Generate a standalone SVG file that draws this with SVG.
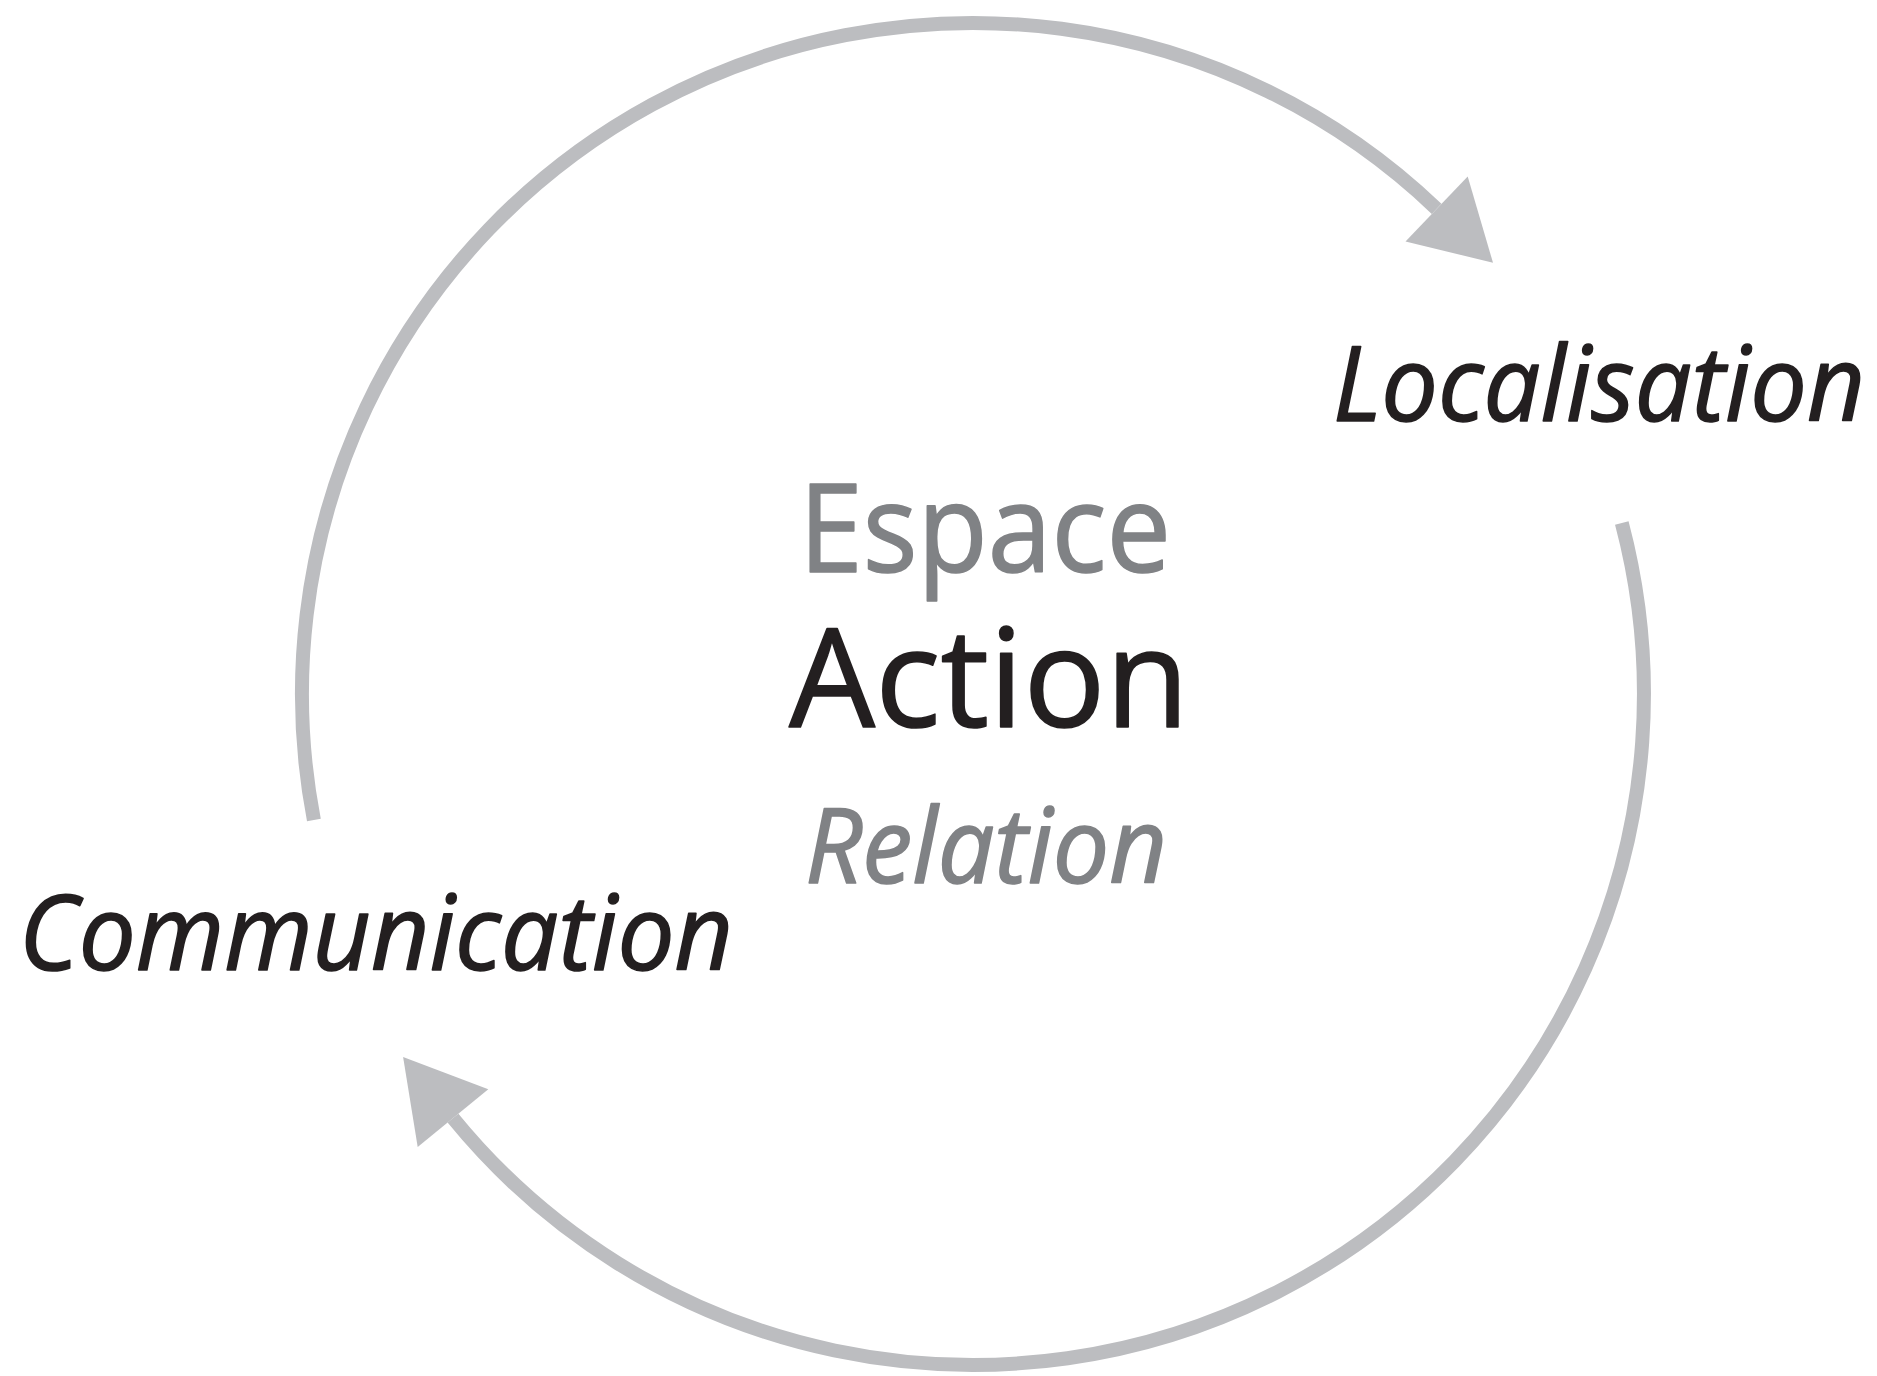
<svg xmlns="http://www.w3.org/2000/svg" width="1877" height="1376" viewBox="0 0 1877 1376">
<style>
.arc{fill:none;stroke:#bcbdc0;stroke-width:14}
.head{fill:#bcbdc0}
.t{font-family:"Open Sans","Noto Sans",sans-serif;stroke-width:1.6;stroke-linejoin:round}
.dark{fill:#231f20;stroke:#231f20}
.gray{fill:#808285;stroke:#808285}
.it{font-style:italic}
</style>
<rect width="1877" height="1376" fill="#ffffff"/>
<g id="connectors">
<path class="arc" d="M 313.9 820 A 671 671 0 0 1 1436.6 208.9"/>
<polygon class="head" points="1493,262.8 1467.7,176.4 1405.5,241.4"/>
<path class="arc" d="M 1621.8 523 A 671 671 0 0 1 453 1118.1"/>
<polygon class="head" points="403.1,1056.9 417.7,1146.9 488.3,1089.3"/>
</g>
<g id="localisation">
<text class="t dark it" x="1333" y="421" font-size="104" textLength="532" lengthAdjust="spacingAndGlyphs">Localisation</text>
</g>
<g id="communication">
<text class="t dark it" x="19" y="970" font-size="104" textLength="714" lengthAdjust="spacingAndGlyphs">Communication</text>
</g>
<g id="center">
<text class="t gray" x="799" y="572" font-size="122" textLength="372" lengthAdjust="spacingAndGlyphs">Espace</text>
<text class="t dark" x="789" y="727" font-size="138" textLength="400" lengthAdjust="spacingAndGlyphs">Action</text>
<text class="t gray it" x="805" y="883" font-size="104" textLength="362" lengthAdjust="spacingAndGlyphs">Relation</text>
</g>
</svg>
